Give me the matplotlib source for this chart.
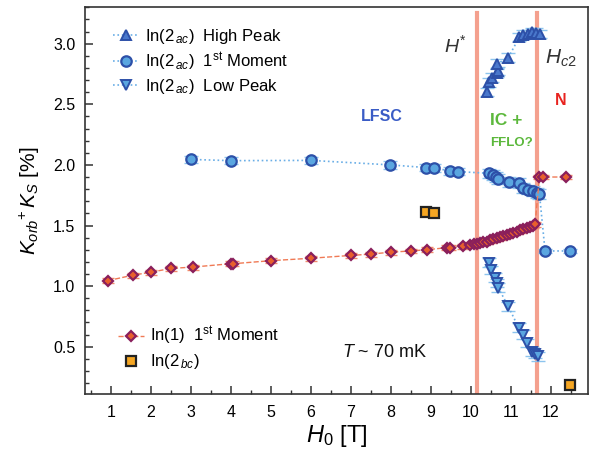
import matplotlib
matplotlib.use("Agg")
import matplotlib.pyplot as plt
from matplotlib.ticker import MultipleLocator

plt.rcParams['font.family'] = ['Liberation Sans', 'DejaVu Sans']
plt.rcParams['mathtext.fontset'] = 'custom'
plt.rcParams['mathtext.rm'] = 'Liberation Sans'
plt.rcParams['mathtext.it'] = 'Liberation Sans:italic'
plt.rcParams['mathtext.bf'] = 'Liberation Sans:bold'

# ---- data ----
high_x = [10.39, 10.46, 10.52, 10.64, 10.68, 10.66, 10.93, 11.21, 11.31, 11.42, 11.52, 11.62, 11.72]
high_y = [2.60, 2.68, 2.72, 2.76, 2.775, 2.835, 2.885, 3.055, 3.074, 3.08, 3.096, 3.09, 3.08]
high_err = [0.035] * len(high_x)

mom_x = [3.0, 4.0, 6.0, 7.98, 8.87, 9.08, 9.47, 9.67, 10.46, 10.55, 10.62, 10.68, 10.94, 11.21,
         11.31, 11.43, 11.54, 11.64, 11.71, 11.85, 12.47]
mom_y = [2.045, 2.035, 2.037, 2.0, 1.978, 1.975, 1.95, 1.945, 1.93, 1.915, 1.90, 1.885, 1.86, 1.85,
         1.81, 1.796, 1.785, 1.77, 1.76, 1.29, 1.29]
mom_err = [0.03, 0.03, 0.03, 0.03, 0.03, 0.03, 0.03, 0.03, 0.04, 0.04, 0.04, 0.04, 0.04, 0.04,
           0.04, 0.04, 0.04, 0.04, 0.04, 0.015, 0.015]

low_x = [10.44, 10.50, 10.60, 10.64, 10.68, 10.93, 11.19, 11.29, 11.40, 11.52, 11.60, 11.68]
low_y = [1.193, 1.135, 1.07, 1.025, 0.987, 0.833, 0.657, 0.60, 0.53, 0.46, 0.44, 0.42]
low_err = [0.035] * len(low_x)

ln1_x = [0.92, 1.54, 2.0, 2.5, 3.04, 4.0, 4.06, 5.0, 6.0, 6.99, 7.49, 7.99, 8.49, 8.89, 9.39, 9.47,
         9.79, 9.98, 10.07, 10.15, 10.23, 10.31, 10.39, 10.48, 10.56, 10.64, 10.72, 10.81, 10.89,
         10.98, 11.06, 11.14, 11.22, 11.31, 11.39, 11.48, 11.54, 11.60, 11.71, 11.79, 12.38]
ln1_y = [1.045, 1.09, 1.115, 1.146, 1.157, 1.185, 1.185, 1.21, 1.23, 1.253, 1.264, 1.28, 1.29, 1.30,
         1.317, 1.318, 1.327, 1.34, 1.345, 1.35, 1.355, 1.36, 1.368, 1.377, 1.386, 1.395, 1.402,
         1.41, 1.42, 1.43, 1.44, 1.45, 1.462, 1.474, 1.482, 1.49, 1.50, 1.51, 1.90, 1.90, 1.90]
ln1_err = [0.02] * len(ln1_x)

bc_x = [8.87, 9.08, 12.47]
bc_y = [1.61, 1.605, 0.186]

h_star = 10.15
h_c2 = 11.64

# ---- styles ----
blue_line = '#6aaee6'
err_blue = '#8cc4ee'
dark_blue = '#2d50a8'
tri_face = '#4a78cc'
circ_face = '#5aa6e0'
red_line = '#f07a55'
err_red = '#f28a6a'
dia_edge = '#8a1f5c'
dia_face = '#e8602c'
vline = '#f4a08e'

fig = plt.figure(figsize=(5.95, 4.55), dpi=100)
ax = fig.add_axes([0.1429, 0.134, 0.988 - 0.1429, 0.984 - 0.134])

ax.axvline(h_star, ymin=0.005, ymax=0.985, color=vline, lw=3, zorder=1)
ax.axvline(h_c2, ymin=0.005, ymax=0.985, color=vline, lw=3, zorder=1)

# error bars
ax.errorbar(high_x, high_y, yerr=high_err, fmt='none', ecolor=err_blue, elinewidth=1, capsize=5, zorder=2)
ax.errorbar(mom_x, mom_y, yerr=mom_err, fmt='none', ecolor=err_blue, elinewidth=1, capsize=5, zorder=2)
ax.errorbar(low_x, low_y, yerr=low_err, fmt='none', ecolor=err_blue, elinewidth=1, capsize=5, zorder=2)
ax.errorbar(ln1_x, ln1_y, yerr=ln1_err, fmt='none', ecolor=err_red, elinewidth=1, capsize=4, zorder=2)

lab_ac = r'In($\mathit{2}_{\,ac}$)'
l1, = ax.plot(high_x, high_y, ls=':', color=blue_line, lw=1.2, marker='^', ms=7.5,
              mfc=tri_face, mec=dark_blue, mew=1.4, zorder=3,
              label=lab_ac + '  High Peak')
l2, = ax.plot(mom_x, mom_y, ls=':', color=blue_line, lw=1.2, marker='o', ms=7.5,
              mfc=circ_face, mec=dark_blue, mew=1.6, zorder=3,
              label=lab_ac + r'  1$^{\rm st}$ Moment')
l3, = ax.plot(low_x, low_y, ls=':', color=blue_line, lw=1.2, marker='v', ms=7.5,
              mfc=circ_face, mec=dark_blue, mew=1.4, zorder=3,
              label=lab_ac + '  Low Peak')
l4, = ax.plot(ln1_x, ln1_y, ls='--', color=red_line, lw=1.0, marker='D', ms=5.2,
              mfc=dia_face, mec=dia_edge, mew=1.6, zorder=4,
              label=r'In(1)  1$^{\rm st}$ Moment')
l5, = ax.plot(bc_x, bc_y, ls='none', marker='s', ms=7, mfc='#f5a623', mec='#222222',
              mew=1.6, zorder=4, label=r'In($\mathit{2}_{\,bc}$)')

ax.set_xlim(0.35, 12.92)
ax.set_ylim(0.11, 3.3)
ax.xaxis.set_major_locator(MultipleLocator(1))
ax.xaxis.set_minor_locator(MultipleLocator(0.5))
ax.yaxis.set_major_locator(MultipleLocator(0.5))
ax.yaxis.set_minor_locator(MultipleLocator(0.1))
ax.tick_params(which='both', direction='in', top=False, right=False, color='#333333', labelsize=11.5)
ax.tick_params(which='major', length=6, width=1.1)
ax.tick_params(which='minor', length=3, width=1.0)
ax.tick_params(axis='x', pad=8)
ax.tick_params(axis='y', pad=7)
for s in ax.spines.values():
    s.set_color('#333333')
    s.set_linewidth(1.2)

ax.set_xlabel(r'$H_0$ [T]', fontsize=17, labelpad=2)
ax.set_ylabel(r'$K_{orb}{}^{+}\,K_S$ [%]', fontsize=15, labelpad=8)

leg1 = ax.legend(handles=[l1, l2, l3], loc='upper left', bbox_to_anchor=(0.035, 0.975),
                 frameon=False, fontsize=12, handlelength=1.6, handletextpad=0.35,
                 labelspacing=0.25, borderaxespad=0.2)
ax.add_artist(leg1)
ax.legend(handles=[l4, l5], loc='upper left', bbox_to_anchor=(0.045, 0.205),
          frameon=False, fontsize=12, handlelength=1.6, handletextpad=0.35,
          labelspacing=0.3, borderaxespad=0.2)

ax.text(9.6, 2.99, r'$H^{*}$', fontsize=14, color='#333333', ha='center', va='center')
ax.text(12.25, 2.88, r'$H_{c2}$', fontsize=15, color='#333333', ha='center', va='center')
ax.text(12.25, 2.53, 'N', fontsize=11.5, color='#e8231f', fontweight='bold', ha='center', va='center')
ax.text(10.88, 2.37, 'IC +', fontsize=12.5, color='#5cb83c', fontweight='bold', ha='center', va='center')
ax.text(11.02, 2.18, 'FFLO?', fontsize=9.5, color='#5cb83c', fontweight='bold', ha='center', va='center')
ax.text(7.78, 2.40, 'LFSC', fontsize=11.5, color='#3a5cc6', fontweight='bold', ha='center', va='center')
ax.text(7.83, 0.455, r'$T$ ~ 70 mK', fontsize=13, color='#111111', ha='center', va='center')

fig.savefig('out.png', dpi=100)
